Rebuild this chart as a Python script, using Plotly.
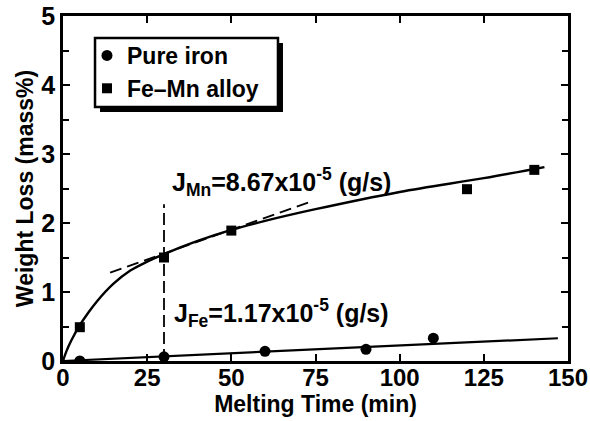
import plotly.graph_objects as go

# Data
iron_t = [5, 30, 60, 90, 110]
iron_w = [0.0, 0.06, 0.14, 0.17, 0.33]
femn_t = [5, 30, 50, 120, 140]
femn_w = [0.49, 1.50, 1.89, 2.49, 2.77]

# fitted curves
fe_fit_t = [0, 147]
fe_fit_w = [0.0, 0.33]
mn_fit_t = [0, 1, 2.5, 5, 7.5, 10, 15, 20, 25, 30, 40, 50, 60, 75, 100, 125, 143]
mn_fit_w = [0, 0.14, 0.3, 0.52, 0.7, 0.86, 1.12, 1.31, 1.44, 1.55, 1.74, 1.9, 2.03, 2.2, 2.45, 2.65, 2.81]

# tangent (dashed) and vertical marker line
tan_t = [14, 73]
tan_w = [1.28, 2.30]
vline_t = [30, 30]
vline_w = [0, 2.27]

fig = go.Figure()
fig.add_trace(go.Scatter(x=mn_fit_t, y=mn_fit_w, mode="lines", line=dict(color="black", width=2.4, shape="spline"), showlegend=False))
fig.add_trace(go.Scatter(x=fe_fit_t, y=fe_fit_w, mode="lines", line=dict(color="black", width=2.2), showlegend=False))
fig.add_trace(go.Scatter(x=tan_t, y=tan_w, mode="lines", line=dict(color="black", width=1.8, dash="12px,6px"), showlegend=False))
fig.add_trace(go.Scatter(x=vline_t, y=vline_w, mode="lines", line=dict(color="black", width=1.8, dash="12px,5px"), showlegend=False))
fig.add_trace(go.Scatter(x=iron_t, y=iron_w, mode="markers", name="Pure iron",
                         marker=dict(symbol="circle", size=11, color="black")))
fig.add_trace(go.Scatter(x=femn_t, y=femn_w, mode="markers", name="Fe\u2013Mn alloy",
                         marker=dict(symbol="square", size=10, color="black")))

fig.add_annotation(x=31.8, y=2.59, xref="x", yref="y", xanchor="left", yanchor="middle", showarrow=False,
                   text="J<sub>Mn</sub>=8.67x10<sup>-5</sup> (g/s)", font=dict(size=25))
fig.add_annotation(x=32.5, y=0.70, xref="x", yref="y", xanchor="left", yanchor="middle", showarrow=False,
                   text="J<sub>Fe</sub>=1.17x10<sup>-5</sup> (g/s)", font=dict(size=25))

# legend frame with drop shadow
fig.add_shape(type="rect", xref="paper", yref="paper", x0=0.0733, x1=0.4356, y0=0.7217, y1=0.9217,
              fillcolor="black", line=dict(width=0), layer="above")
fig.add_shape(type="rect", xref="paper", yref="paper", x0=0.0634, x1=0.4257, y0=0.7362, y1=0.9362,
              fillcolor="white", line=dict(color="black", width=2.5), layer="above")

axis_common = dict(showline=True, linewidth=2.5, linecolor="black", mirror="ticks", ticks="inside",
                   ticklen=7, tickwidth=2, tickcolor="black", showgrid=False, zeroline=False, automargin=False,
                   ticklabeloverflow="allow")

fig.update_xaxes(range=[0, 150], dtick=25, tick0=0, title=dict(text="Melting Time (min)", standoff=2, font=dict(size=23)),
                 tickfont=dict(size=24), ticklabelstandoff=-7, **axis_common)
fig.update_yaxes(range=[0, 5], dtick=1, tick0=0, title=dict(text="Weight Loss (mass%)", standoff=2, font=dict(size=23)),
                 tickfont=dict(size=25),
                 minor=dict(dtick=0.5, ticks="inside", ticklen=6, tickwidth=2, tickcolor="black"), **axis_common)

fig.update_layout(
    width=590, height=421,
    margin=dict(l=63, r=22, t=16, b=60),
    paper_bgcolor="white", plot_bgcolor="white",
    font=dict(family="Liberation Sans, Arial, sans-serif", color="black", weight="bold"),
    legend=dict(x=0.0475, y=0.948, xanchor="left", yanchor="top", bgcolor="rgba(0,0,0,0)",
                borderwidth=0, font=dict(size=23), itemsizing="trace", tracegroupgap=0),
)

fig.write_html("out.html", config={"displayModeBar": False},
               post_script="document.body.style.margin='0px';")
